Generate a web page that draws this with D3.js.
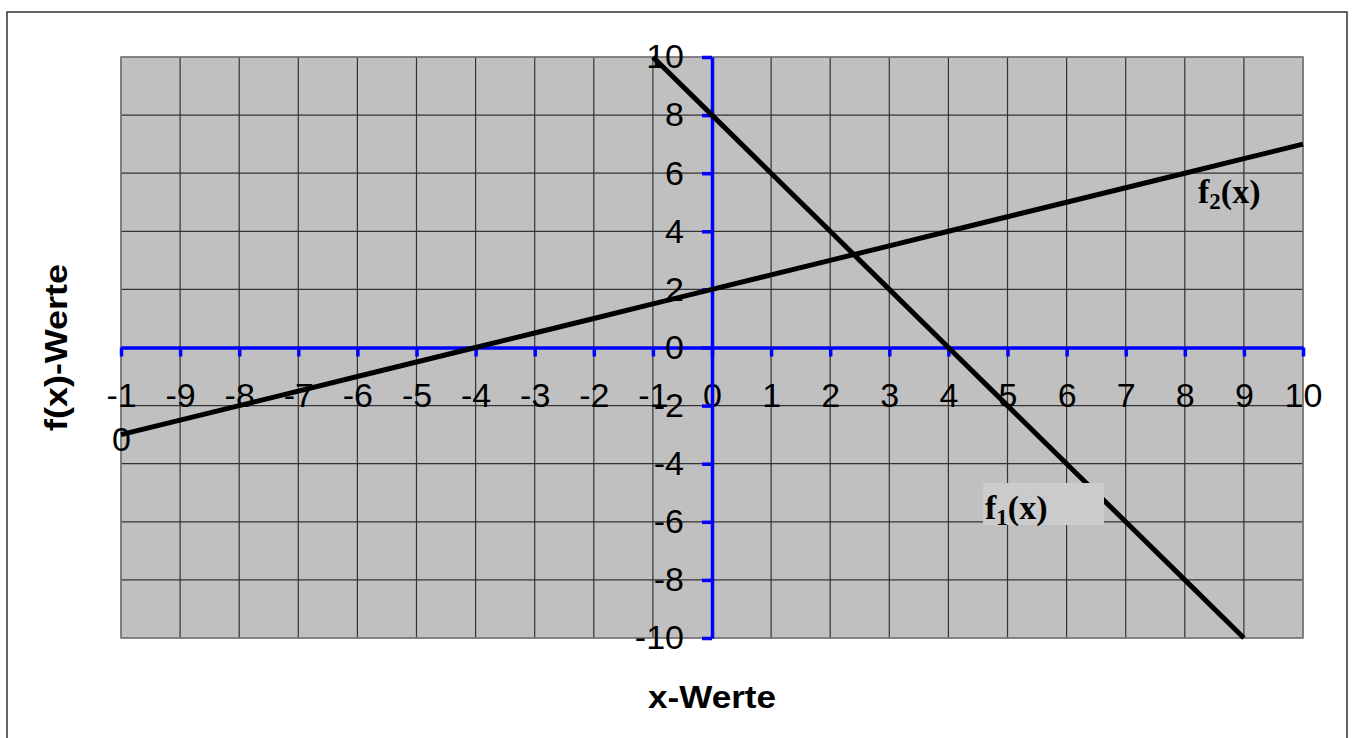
<!DOCTYPE html>
<head>
  <meta charset="utf-8">
  <title>f1 und f2</title>
  <script src="https://d3js.org/d3.v7.min.js"></script>
  <style>
    body { margin:0; background:#fff; }
    svg { display:block; }
    text { font-family: "Liberation Sans", Arial, sans-serif; }
  </style>
</head>

<body>
  <svg width="1353" height="738"></svg>
  <script>
    // data
    var xTicks = [-10, -9, -8, -7, -6, -5, -4, -3, -2, -1, 0, 1, 2, 3, 4, 5, 6, 7, 8, 9, 10];
    var yTicks = [-10, -8, -6, -4, -2, 0, 2, 4, 6, 8, 10];
    var f1X = [-1, 0, 1, 2, 3, 4, 5, 6, 7, 8, 9];
    var f1Y = [10, 8, 6, 4, 2, 0, -2, -4, -6, -8, -10];
    var f2X = [-10, -9, -8, -7, -6, -5, -4, -3, -2, -1, 0, 1, 2, 3, 4, 5, 6, 7, 8, 9, 10];
    var f2Y = [-3, -2.5, -2, -1.5, -1, -0.5, 0, 0.5, 1, 1.5, 2, 2.5, 3, 3.5, 4, 4.5, 5, 5.5, 6, 6.5, 7];

    var svg = d3.select('svg');
    var plotL = 121, plotR = 1303, plotT = 57, plotB = 638;

    var x = d3.scaleLinear().domain([-10, 10]).range([plotL, plotR]);
    var y = d3.scaleLinear().domain([-10, 10]).range([plotB, plotT]);

    // outer frame
    svg.append('rect')
      .attr('x', 7).attr('y', 12)
      .attr('width', 1340).attr('height', 760)
      .attr('fill', 'none').attr('stroke', '#333').attr('stroke-width', 1.5);

    // plot area
    svg.append('rect')
      .attr('x', plotL).attr('y', plotT)
      .attr('width', plotR - plotL).attr('height', plotB - plotT)
      .attr('fill', '#c0c0c0');

    // grid
    svg.append('g').selectAll('line').data(xTicks).enter().append('line')
      .attr('x1', d => x(d)).attr('x2', d => x(d))
      .attr('y1', plotT).attr('y2', plotB)
      .attr('stroke', '#333').attr('stroke-width', 1.2);
    svg.append('g').selectAll('line').data(yTicks).enter().append('line')
      .attr('x1', plotL).attr('x2', plotR)
      .attr('y1', d => y(d)).attr('y2', d => y(d))
      .attr('stroke', '#333').attr('stroke-width', 1.2);

    svg.append('rect')
      .attr('x', plotL).attr('y', plotT)
      .attr('width', plotR - plotL).attr('height', plotB - plotT)
      .attr('fill', 'none').attr('stroke', '#808080').attr('stroke-width', 1.5);

    var fmt = d => String(d);

    // x axis (blue, through y = 0)
    var xAxis = svg.append('g')
      .attr('transform', 'translate(0,' + y(0) + ')')
      .call(d3.axisBottom(x).tickValues(xTicks).tickFormat(fmt)
        .tickSize(9).tickSizeOuter(0).tickPadding(26));

    // y axis (blue, through x = 0)
    var yAxis = svg.append('g')
      .attr('transform', 'translate(' + x(0) + ',0)')
      .call(d3.axisLeft(y).tickValues(yTicks).tickFormat(fmt)
        .tickSize(10).tickSizeOuter(0).tickPadding(18));

    [xAxis, yAxis].forEach(function(g) {
      g.select('.domain').attr('stroke', '#0000ff').attr('stroke-width', 3.5);
      g.selectAll('.tick line').attr('stroke', '#0000ff').attr('stroke-width', 3.5);
      g.selectAll('.tick text')
        .attr('fill', '#000')
        .style('font-family', '"Liberation Sans", Arial, sans-serif')
        .style('font-size', '34px');
    });

    // "-10" on x axis wraps into two lines
    xAxis.selectAll('.tick text').filter(d => d === -10).each(function() {
      var t = d3.select(this).text('');
      t.append('tspan').attr('x', 0).text('-1');
      t.append('tspan').attr('x', 0).attr('dy', '1.3em').text('0');
    });

    // lines
    var line = d3.line().x(d => x(d[0])).y(d => y(d[1]));
    svg.append('path')
      .datum(f2X.map((d, i) => [d, f2Y[i]]))
      .attr('d', line)
      .attr('fill', 'none').attr('stroke', '#000').attr('stroke-width', 5);
    svg.append('path')
      .datum(f1X.map((d, i) => [d, f1Y[i]]))
      .attr('d', line)
      .attr('fill', 'none').attr('stroke', '#000').attr('stroke-width', 5);

    // function labels
    svg.append('rect')
      .attr('x', 983).attr('y', 483).attr('width', 121).attr('height', 42)
      .attr('fill', '#cbcbcb');

    function fLabel(px, py, sub) {
      var t = svg.append('text')
        .attr('x', px).attr('y', py)
        .style('font-family', '"Liberation Serif", "Times New Roman", serif')
        .style('font-weight', 'bold')
        .style('font-size', '34px');
      t.append('tspan').text('f');
      t.append('tspan').attr('dy', 6).style('font-size', '23px').text(sub);
      t.append('tspan').attr('dy', -6).text('(x)');
    }
    fLabel(985, 519, '1');
    fLabel(1198, 203, '2');

    // axis titles
    svg.append('text')
      .attr('x', x(0)).attr('y', 708)
      .attr('text-anchor', 'middle')
      .style('font-weight', 'bold').style('font-size', '31px')
      .attr('textLength', 128).attr('lengthAdjust', 'spacingAndGlyphs')
      .text('x-Werte');

    svg.append('text')
      .attr('transform', 'translate(67,' + y(0) + ') rotate(-90)')
      .attr('text-anchor', 'middle')
      .style('font-weight', 'bold').style('font-size', '31px')
      .attr('textLength', 167).attr('lengthAdjust', 'spacingAndGlyphs')
      .text('f(x)-Werte');
  </script>
</body>
